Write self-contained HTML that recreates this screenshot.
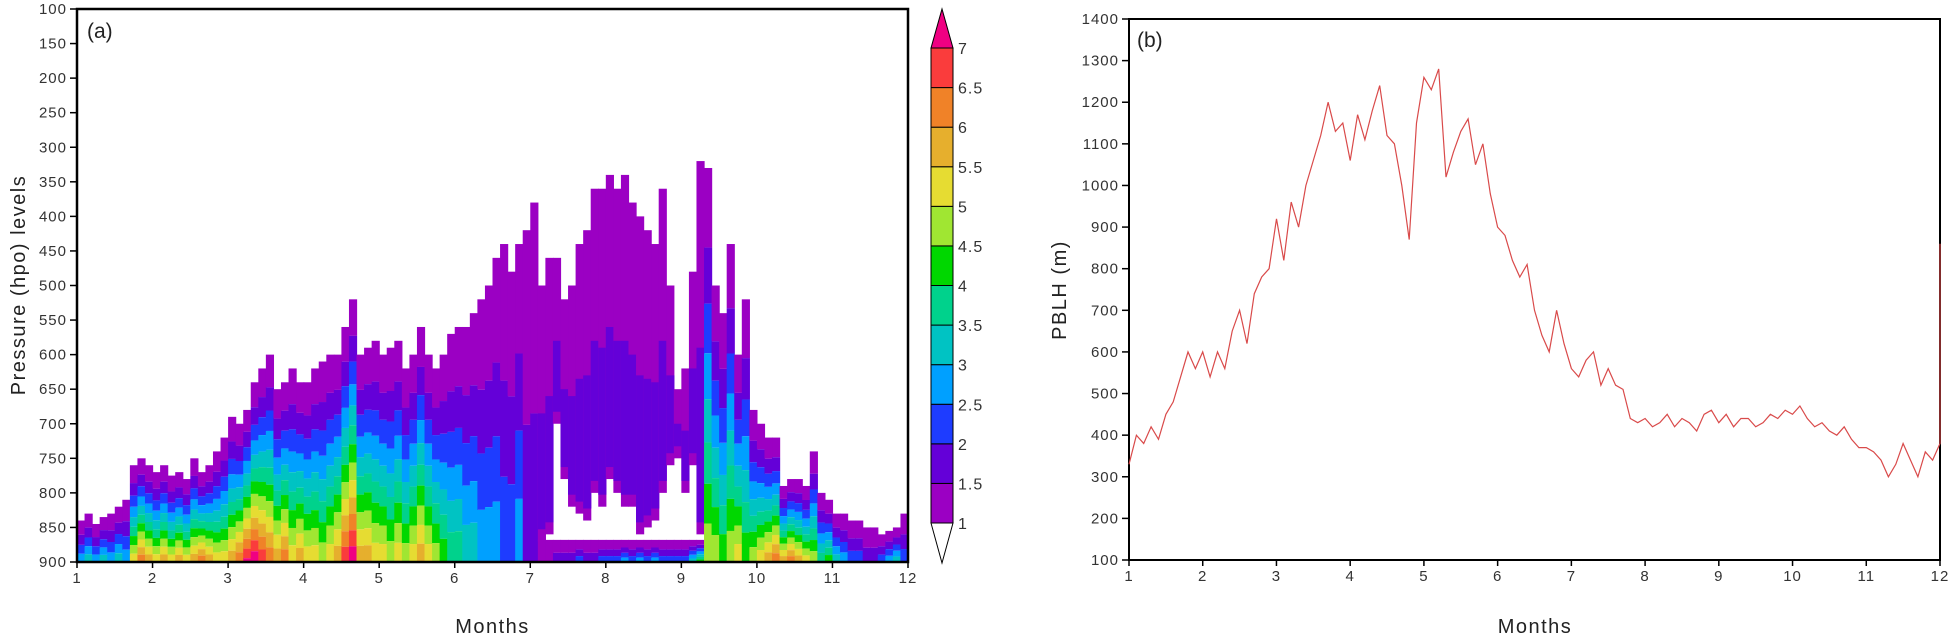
<!DOCTYPE html>
<html><head><meta charset="utf-8">
<style>
html,body{margin:0;padding:0;background:#fff;}
svg{display:block;font-family:"Liberation Sans",sans-serif;}
.tk{font-size:15px;fill:#333;letter-spacing:1px;}
.ttl{font-size:20px;fill:#222;letter-spacing:1.5px;}
</style></head>
<body>
<svg id="chart" width="1952" height="640" viewBox="0 0 1952 640">
  <g id="pa"></g>
  <g id="cb"></g>
  <g id="pb"></g>
</svg>
<script>
// ---------- Panel (a) data ----------
const aMonths = [];
for (let i = 0; i < 110; i++) aMonths.push(1 + i * 0.1);
const aTopP = [840,830,845,835,830,820,810,760,750,760,
  770,760,775,770,780,750,770,760,740,720,
  690,700,680,640,620,600,650,640,620,640,
  640,620,610,600,600,560,520,600,590,580,
  600,590,580,620,600,560,600,620,600,570,
  560,560,540,520,500,460,440,480,440,420,
  380,500,460,460,520,500,440,420,360,360,
  340,360,340,380,400,420,440,360,500,650,
  620,480,320,330,500,540,440,600,520,680,
  700,720,720,790,780,780,790,740,800,810,
  830,830,840,840,850,850,860,855,850,830];
const aBotP = [900,900,900,900,900,900,900,900,900,900,
  900,900,900,900,900,900,900,900,900,900,
  900,900,900,900,900,900,900,900,900,900,
  900,900,900,900,900,900,900,900,900,900,
  900,900,900,900,900,900,900,900,900,900,
  900,900,900,900,900,900,900,900,900,900,
  900,870,860,700,780,820,830,840,800,820,
  780,800,820,820,860,850,840,800,760,750,
  800,760,860,880,900,900,900,900,900,900,
  900,900,900,900,900,900,900,900,900,900,
  900,900,900,900,900,900,900,900,900,900];
const aSurfVal = [3,3.5,3,3.5,3,3.5,3,5.5,6.5,6,
  5.5,6,5.5,6,5.5,6,6.5,6,5.5,5.5,
  6,6.5,7.2,7.5,7,6.5,6,6.5,5.5,6,
  5.5,5.5,5,5.5,6,7,7.5,6,6,5.5,
  5.5,5,5.5,5,5.5,6,5.5,5,4.5,4,
  4,3.5,3.5,3,3,3,2.5,2.5,3,2,
  2,1.5,1.5,2,2,2,2.5,2,2,2.5,
  2.5,2.5,3,2.5,3,2.5,3,2.5,2.5,2.5,
  2.5,3.5,4.5,5,5,4.5,5,5.5,4.5,5,
  5.5,6,6.5,6,6.5,6,5.5,5,4,4.5,
  3.5,3,2.5,2.5,2,2,2.5,3,3.5,2.5];
const aYTicks = [100,150,200,250,300,350,400,450,500,550,600,650,700,750,800,850,900];
const xTickLabels = [1,2,3,4,5,6,7,8,9,10,11,12];
const cbLevels = [1,1.5,2,2.5,3,3.5,4,4.5,5,5.5,6,6.5,7];
const cbColors = ["#9b00c3","#6400d8","#1e3cff","#00a0ff","#00c3c3","#00d28c","#00d700","#a0e632","#e6dc32","#e6af2d","#f08228","#fa3c3c","#f00082"];

// ---------- Panel (b) data ----------
const bMonths = [];
for (let i = 0; i <= 110; i++) bMonths.push(1 + i * 0.1);
bMonths.push(12);
const bPBLH = [330,400,380,420,390,450,480,540,600,560,
  600,540,600,560,650,700,620,740,780,800,
  920,820,960,900,1000,1060,1120,1200,1130,1150,
  1060,1170,1110,1180,1240,1120,1100,1000,870,1150,
  1260,1230,1280,1020,1080,1130,1160,1050,1100,980,
  900,880,820,780,810,700,640,600,700,620,
  560,540,580,600,520,560,520,510,440,430,
  440,420,430,450,420,440,430,410,450,460,
  430,450,420,440,440,420,430,450,440,460,
  450,470,440,420,430,410,400,420,390,370,
  370,360,340,300,330,380,340,300,360,340,
  380,860];
const bYTicks = [100,200,300,400,500,600,700,800,900,1000,1100,1200,1300,1400];

const NS = "http://www.w3.org/2000/svg";
function mk(tag, attrs, parent) {
  const e = document.createElementNS(NS, tag);
  for (const k in attrs) e.setAttribute(k, attrs[k]);
  parent.appendChild(e);
  return e;
}

// ---------- Panel (a) ----------
const A = {l:77, r:908, t:9, b:562};
const ax = m => A.l + (m - 1) / 11 * (A.r - A.l);
const ay = p => A.t + (p - 100) / 800 * (A.b - A.t);
const pa = document.getElementById('pa');
const K = 1.3;
function drawProfile(x, w, top, bot, surf, isStrip) {
  for (let i = 0; i < cbLevels.length; i++) {
    const lv = cbLevels[i];
    if (surf <= lv) break;
    const nxt = i + 1 < cbLevels.length ? cbLevels[i + 1] : 99;
    const pStart = top + (bot - top) * Math.pow((lv - 1) / (surf - 1), 1 / K);
    const pEnd = nxt >= surf ? bot : top + (bot - top) * Math.pow((nxt - 1) / (surf - 1), 1 / K);
    const r = mk('rect', {x:x, y:ay(pStart), width:w, height:Math.max(0, ay(pEnd) - ay(pStart)), fill:cbColors[i]}, pa);
    
    
  }
}
const colW = (A.r - A.l) / 110 + 0.6;
for (let i = 0; i < aMonths.length; i++) {
  const x = ax(aMonths[i]);
  const top = aTopP[i], bot = aBotP[i], s = aSurfVal[i];
  if (bot >= 880) {
    drawProfile(x, colW, top, 900, Math.max(s, 1.2), false);
  } else {
    const r = mk('rect', {x:x, y:ay(top), width:colW, height:ay(bot) - ay(top), fill:cbColors[0]}, pa);
    
    
    const mid = top + (bot - top) * 0.5;
    const r2 = mk('rect', {x:x, y:ay(mid), width:colW, height:Math.max(0, ay(bot) - ay(mid) - 12), fill:cbColors[1]}, pa);
    
    
    drawProfile(x, colW, 868, 900, Math.max(s, 1.2), true);
  }
}
const fa = mk('rect', {x:A.l, y:A.t, width:A.r - A.l, height:A.b - A.t, fill:'none', stroke:'#000', 'stroke-width':2.5}, pa);


aYTicks.forEach(p => {
  mk('line', {x1:A.l - 7, x2:A.l, y1:ay(p), y2:ay(p), stroke:'#000', 'stroke-width':1.5}, pa);
  const t = mk('text', {x:A.l - 10, y:ay(p) + 5, 'text-anchor':'end', class:'tk'}, pa);
  t.textContent = p;
  
  
});
xTickLabels.forEach(m => {
  mk('line', {x1:ax(m), x2:ax(m), y1:A.b, y2:A.b + 6, stroke:'#000', 'stroke-width':1.5}, pa);
  const t = mk('text', {x:ax(m), y:A.b + 21, 'text-anchor':'middle', class:'tk'}, pa);
  t.textContent = m;
  
  
});
let t = mk('text', {x:87, y:38, class:'ttl', style:'font-size:21px;letter-spacing:0'}, pa);
t.textContent = '(a)';


t = mk('text', {x:(A.l + A.r) / 2, y:633, 'text-anchor':'middle', class:'ttl'}, pa);
t.textContent = 'Months';


t = mk('text', {x:0, y:0, 'text-anchor':'middle', class:'ttl', transform:'translate(25,285) rotate(-90)'}, pa);
t.textContent = 'Pressure (hpo) levels';



// ---------- Colorbar ----------
const cb = document.getElementById('cb');
const C = {l:931, r:953, t:48, b:523, tip1:9, tip2:563};
const cy = v => C.b - (v - 1) / 6 * (C.b - C.t);
for (let i = 0; i < 12; i++) {
  const r = mk('rect', {x:C.l, y:cy(cbLevels[i + 1]), width:C.r - C.l, height:cy(cbLevels[i]) - cy(cbLevels[i + 1]), fill:cbColors[i], stroke:'#000', 'stroke-width':1}, cb);
  
  
}
let tri = mk('polygon', {points:`${C.l},${C.t} ${C.r},${C.t} ${(C.l + C.r) / 2},${C.tip1}`, fill:cbColors[12], stroke:'#000', 'stroke-width':1}, cb);


tri = mk('polygon', {points:`${C.l},${C.b} ${C.r},${C.b} ${(C.l + C.r) / 2},${C.tip2}`, fill:'#fff', stroke:'#000', 'stroke-width':1}, cb);


cbLevels.forEach(v => {
  const tt = mk('text', {x:C.r + 5, y:cy(v) + 6, class:'tk', style:'font-size:16px'}, cb);
  tt.textContent = v;
  
  
});

// ---------- Panel (b) ----------
const B = {l:1129, r:1940, t:19, b:560};
const bx = m => B.l + (m - 1) / 11 * (B.r - B.l);
const by = v => B.b - (v - 100) / 1300 * (B.b - B.t);
const pb = document.getElementById('pb');
const fb = mk('rect', {x:B.l, y:B.t, width:B.r - B.l, height:B.b - B.t, fill:'none', stroke:'#000', 'stroke-width':2}, pb);


const pts = bMonths.map((m, i) => bx(m).toFixed(1) + ',' + by(bPBLH[i]).toFixed(1)).join(' ');
const line = mk('polyline', {points:pts, fill:'none', stroke:'#d94a4a', 'stroke-width':1.2}, pb);


bYTicks.forEach(v => {
  mk('line', {x1:B.l - 7, x2:B.l, y1:by(v), y2:by(v), stroke:'#000', 'stroke-width':1.5}, pb);
  const tt = mk('text', {x:B.l - 10, y:by(v) + 5, 'text-anchor':'end', class:'tk'}, pb);
  tt.textContent = v;
  
  
});
xTickLabels.forEach(m => {
  mk('line', {x1:bx(m), x2:bx(m), y1:B.b, y2:B.b + 6, stroke:'#000', 'stroke-width':1.5}, pb);
  const tt = mk('text', {x:bx(m), y:B.b + 21, 'text-anchor':'middle', class:'tk'}, pb);
  tt.textContent = m;
  
  
});
t = mk('text', {x:1137, y:47, class:'ttl', style:'font-size:21px;letter-spacing:0'}, pb);
t.textContent = '(b)';


t = mk('text', {x:1535, y:633, 'text-anchor':'middle', class:'ttl'}, pb);
t.textContent = 'Months';


t = mk('text', {x:0, y:0, 'text-anchor':'middle', class:'ttl', transform:'translate(1066,290) rotate(-90)'}, pb);
t.textContent = 'PBLH (m)';


</script>
</body></html>
